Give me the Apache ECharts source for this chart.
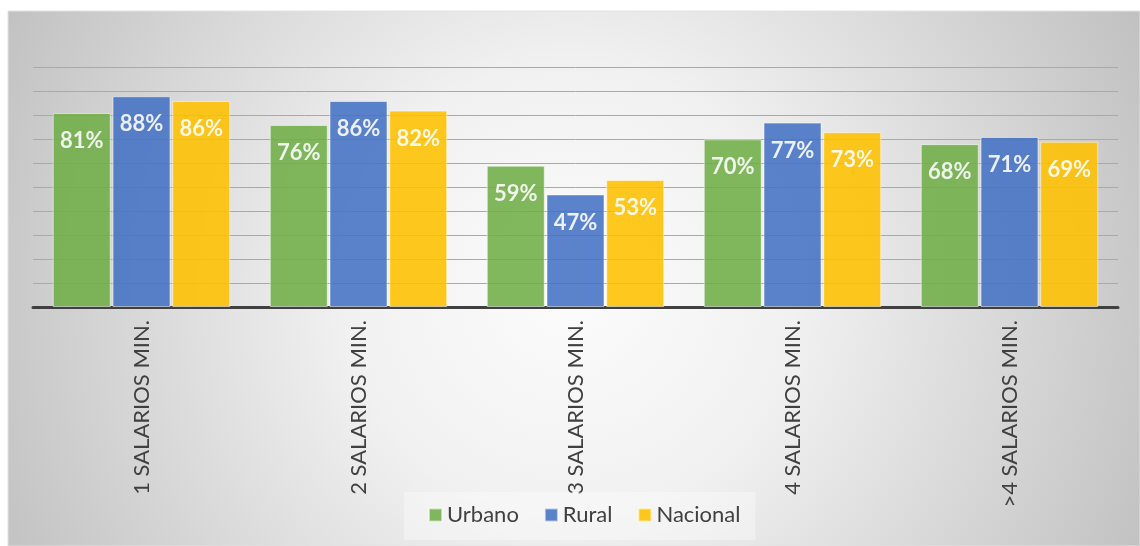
<!DOCTYPE html>
<html>
<head>
<meta charset="utf-8">
<script src="https://cdn.jsdelivr.net/npm/echarts@6/dist/echarts.min.js"></script>
<style>
  html,body{margin:0;padding:0;background:#fff;}
  #chart{width:1140px;height:546px;}
</style>
</head>
<body>
<div id="chart"></div>
<script>
var categorias = ['1 SALARIOS MIN.', '2 SALARIOS MIN.', '3 SALARIOS MIN.', '4 SALARIOS MIN.', '>4 SALARIOS MIN.'];
var urbano = [81, 76, 59, 70, 68];
var rural = [88, 86, 47, 77, 71];
var nacional = [86, 82, 53, 73, 69];
var nombres = ['Urbano', 'Rural', 'Nacional'];

var chart = echarts.init(document.getElementById('chart'));

function serie(nombre, datos, color) {
    return {
        name: nombre,
        type: 'bar',
        barWidth: 58,
        barGap: '3%',
        data: datos,
        itemStyle: {
            color: color,
            opacity: 0.88,
            borderColor: 'rgba(255,255,255,0.6)',
            borderWidth: 1
        },
        label: {
            show: true,
            position: 'insideTop',
            distance: 17,
            formatter: '{c}%',
            color: '#fff',
            fontFamily: 'Lato',
            fontWeight: 'bold',
            fontSize: 22
        }
    };
}

var option = {
    backgroundColor: '#fff',
    animation: false,
    graphic: [{
        type: 'rect',
        z: -100,
        shape: { x: 8, y: 11, width: 1132, height: 535 },
        style: {
            fill: new echarts.graphic.RadialGradient(570, 290, 640, [
                { offset: 0, color: '#fcfcfc' },
                { offset: 0.35, color: '#f1f1f1' },
                { offset: 1, color: '#c0c0c0' }
            ], true),
            stroke: '#e2e2e2',
            lineWidth: 1
        }
    }],
    grid: {
        left: 33,
        right: 22,
        top: 67.5,
        bottom: 239,
        containLabel: false
    },
    legend: {
        data: nombres,
        left: 404,
        top: 492,
        padding: [12, 15, 14, 24],
        backgroundColor: 'rgba(255,255,255,0.35)',
        itemWidth: 13,
        itemHeight: 13,
        itemGap: 25,
        icon: 'rect',
        textStyle: {
            color: '#404040',
            fontFamily: 'Lato',
            fontSize: 22
        }
    },
    xAxis: {
        type: 'category',
        data: categorias,
        axisLine: { lineStyle: { color: '#404040', width: 3 } },
        axisTick: { show: false },
        axisLabel: {
            rotate: 90,
            margin: 13,
            interval: 0,
            color: '#404040',
            fontFamily: 'Lato',
            fontSize: 22
        }
    },
    yAxis: {
        type: 'value',
        min: 0,
        max: 100,
        interval: 10,
        axisLine: { show: false },
        axisTick: { show: false },
        axisLabel: { show: false },
        splitLine: { lineStyle: { color: '#a9a9a9', width: 1 } }
    },
    series: [
        serie('Urbano', urbano, '#70AD47'),
        serie('Rural', rural, '#4472C4'),
        serie('Nacional', nacional, '#FFC000')
    ]
};

chart.setOption(option);
</script>
</body>
</html>
